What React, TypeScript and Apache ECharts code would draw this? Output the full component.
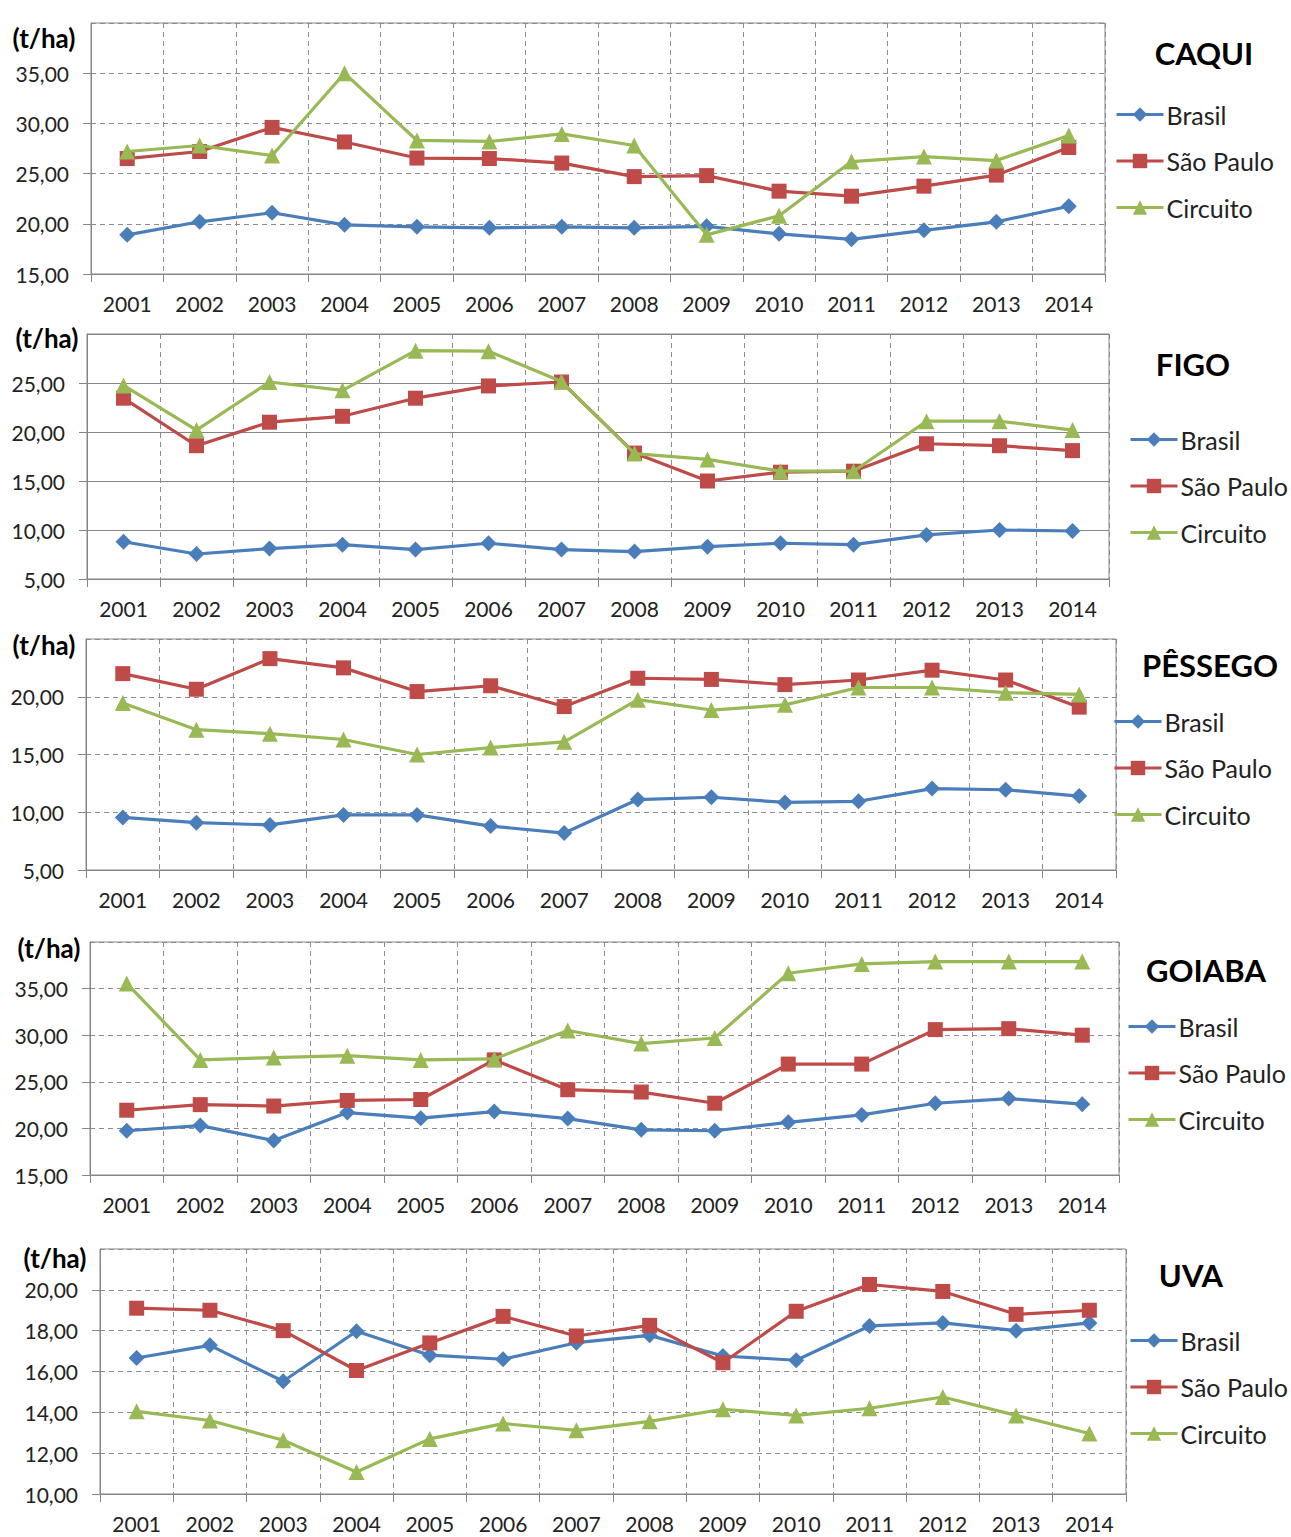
import { useEffect, useRef } from 'react';
import * as echarts from 'echarts';

const years = ['2001', '2002', '2003', '2004', '2005', '2006', '2007', '2008', '2009', '2010', '2011', '2012', '2013', '2014'];
const seriesNames = ['Brasil', 'São Paulo', 'Circuito'];
const titles = ['CAQUI', 'FIGO', 'PÊSSEGO', 'GOIABA', 'UVA'];
const unitLabel = '(t/ha)';

const caquiBrasil = [18.9, 20.2, 21.1, 19.9, 19.7, 19.6, 19.7, 19.6, 19.75, 19.0, 18.45, 19.35, 20.2, 21.75];
const caquiSaoPaulo = [26.5, 27.2, 29.6, 28.15, 26.55, 26.5, 26.05, 24.7, 24.8, 23.25, 22.75, 23.75, 24.85, 27.6];
const caquiCircuito = [27.2, 27.8, 26.8, 35.0, 28.3, 28.2, 28.95, 27.8, 18.9, 20.8, 26.2, 26.7, 26.3, 28.8];

const figoBrasil = [8.8, 7.55, 8.1, 8.5, 8.0, 8.65, 8.0, 7.8, 8.3, 8.65, 8.5, 9.5, 10.0, 9.9];
const figoSaoPaulo = [23.45, 18.6, 21.0, 21.6, 23.45, 24.7, 25.1, 17.85, 15.0, 15.9, 16.0, 18.8, 18.6, 18.1];
const figoCircuito = [24.75, 20.2, 25.1, 24.25, 28.3, 28.25, 25.15, 17.8, 17.2, 16.0, 16.0, 21.1, 21.1, 20.2];

const pessegoBrasil = [9.55, 9.1, 8.9, 9.77, 9.77, 8.8, 8.2, 11.1, 11.3, 10.85, 10.95, 12.05, 11.95, 11.4];
const pessegoSaoPaulo = [22.0, 20.65, 23.3, 22.5, 20.45, 20.95, 19.15, 21.6, 21.5, 21.05, 21.45, 22.3, 21.45, 19.1];
const pessegoCircuito = [19.45, 17.15, 16.8, 16.3, 15.0, 15.6, 16.1, 19.75, 18.85, 19.3, 20.8, 20.8, 20.35, 20.2];

const goiabaBrasil = [19.75, 20.3, 18.7, 21.7, 21.1, 21.8, 21.05, 19.85, 19.75, 20.65, 21.45, 22.7, 23.2, 22.6];
const goiabaSaoPaulo = [21.95, 22.55, 22.4, 23.0, 23.1, 27.35, 24.15, 23.9, 22.7, 26.9, 26.9, 30.6, 30.7, 30.0];
const goiabaCircuito = [35.55, 27.35, 27.6, 27.8, 27.35, 27.45, 30.5, 29.1, 29.7, 36.65, 37.65, 37.9, 37.9, 37.9];

const uvaBrasil = [16.66, 17.28, 15.52, 17.97, 16.8, 16.6, 17.41, 17.77, 16.76, 16.55, 18.23, 18.38, 18.0, 18.38];
const uvaSaoPaulo = [19.1, 19.0, 18.0, 16.05, 17.4, 18.7, 17.74, 18.26, 16.43, 18.95, 20.26, 19.92, 18.8, 19.0];
const uvaCircuito = [14.05, 13.6, 12.63, 11.08, 12.7, 13.45, 13.12, 13.56, 14.15, 13.85, 14.2, 14.75, 13.85, 12.96];

const panelData = [
  [caquiBrasil, caquiSaoPaulo, caquiCircuito],
  [figoBrasil, figoSaoPaulo, figoCircuito],
  [pessegoBrasil, pessegoSaoPaulo, pessegoCircuito],
  [goiabaBrasil, goiabaSaoPaulo, goiabaCircuito],
  [uvaBrasil, uvaSaoPaulo, uvaCircuito],
];
const yMins = [15, 5, 5, 15, 10];
const yMaxs = [40, 30, 25, 40, 22];
const yIntervals = [5, 5, 5, 5, 2];

// layout (positions/styles)
const layout = [
  { left: 91, top: 23, width: 1014, height: 251, solidH: false, legendLeft: 1110, legendTop: 97, titleX: 1204, titleY: 53, unitX: 44, unitY: 38 },
  { left: 87, top: 334, width: 1022, height: 245, solidH: true, legendLeft: 1124, legendTop: 422, titleX: 1193, titleY: 364, unitX: 47, unitY: 338 },
  { left: 86, top: 639, width: 1030, height: 231, solidH: false, legendLeft: 1108, legendTop: 704, titleX: 1210, titleY: 665, unitX: 44, unitY: 645 },
  { left: 90, top: 942, width: 1029, height: 233, solidH: false, legendLeft: 1122, legendTop: 1009, titleX: 1206, titleY: 970, unitX: 49, unitY: 948 },
  { left: 100, top: 1249, width: 1026, height: 245, solidH: false, legendLeft: 1124, legendTop: 1323, titleX: 1191, titleY: 1275, unitX: 55, unitY: 1258 },
];

const colors = ['#4A7EBB', '#BE4B48', '#98B954'];
const symbols = ['diamond', 'rect', 'triangle'];
const symbolSizes = [16, 15, 16];
const FONT = 'Lato, "Open Sans", sans-serif';
const AXIS_COLOR = '#868686';
const GRID_COLOR = '#8c8c8c';
const TEXT_COLOR = '#222222';

export default function App() {
  const ref = useRef<HTMLDivElement>(null);
  useEffect(() => {
    document.body.style.margin = '0';
    if (!ref.current) return;
    const chart = echarts.init(ref.current, undefined, { renderer: 'svg' });

    const grids: any[] = [];
    const xAxes: any[] = [];
    const yAxes: any[] = [];
    const series: any[] = [];
    const legends: any[] = [];
    const graphics: any[] = [];

    layout.forEach((L, i) => {
      grids.push({
        left: L.left, top: L.top, width: L.width, height: L.height,
        show: true, borderColor: AXIS_COLOR, borderWidth: 1, backgroundColor: 'transparent',
      });
      xAxes.push({
        type: 'category', gridIndex: i, data: years, boundaryGap: true,
        axisLine: { show: true, lineStyle: { color: AXIS_COLOR, width: 1 } },
        axisTick: { show: true, length: 8, lineStyle: { color: AXIS_COLOR } },
        axisLabel: { fontSize: 21, fontFamily: FONT, color: TEXT_COLOR, margin: 19, interval: 0 },
        splitLine: { show: true, lineStyle: { type: [5, 4], color: GRID_COLOR, width: 1 } },
      });
      yAxes.push({
        type: 'value', gridIndex: i, min: yMins[i], max: yMaxs[i], interval: yIntervals[i],
        axisLine: { show: true, lineStyle: { color: AXIS_COLOR, width: 1 } },
        axisTick: { show: true, length: 8, lineStyle: { color: AXIS_COLOR } },
        axisLabel: {
          fontSize: 21, fontFamily: FONT, color: TEXT_COLOR, margin: 22, showMaxLabel: false,
          formatter: (v: number) => v.toFixed(2).replace('.', ','),
        },
        splitLine: {
          show: true,
          lineStyle: L.solidH
            ? { type: 'solid', color: AXIS_COLOR, width: 1 }
            : { type: [5, 4], color: GRID_COLOR, width: 1 },
        },
      });
      panelData[i].forEach((vals, k) => {
        series.push({
          name: seriesNames[k], type: 'line', xAxisIndex: i, yAxisIndex: i,
          data: vals, symbol: symbols[k], symbolSize: symbolSizes[k], showAllSymbol: true,
          lineStyle: { color: colors[k], width: 3.2 },
          itemStyle: { color: colors[k] },
          z: 2 + k,
        });
      });
      legends.push({
        data: seriesNames, orient: 'vertical', left: L.legendLeft, top: L.legendTop,
        itemGap: 21.5, itemWidth: 47, itemHeight: 18,
        lineStyle: { width: 3 },
        textStyle: { fontSize: 25, fontFamily: FONT, color: TEXT_COLOR, padding: [0, 0, 0, -2] },
        selectedMode: false,
      });
      graphics.push({
        type: 'text', x: L.titleX, y: L.titleY,
        style: { text: titles[i], fontSize: 31, fontWeight: 'bold', fontFamily: FONT, fill: '#000', textAlign: 'center', textVerticalAlign: 'middle' },
      });
      graphics.push({
        type: 'text', x: L.unitX, y: L.unitY, z: 100,
        style: { text: unitLabel, fontSize: 26, fontWeight: 'bold', fontFamily: FONT, fill: '#000', textAlign: 'center', textVerticalAlign: 'middle', backgroundColor: '#fff' },
      });
    });

    chart.setOption({
      animation: false,
      backgroundColor: '#ffffff',
      grid: grids, xAxis: xAxes, yAxis: yAxes, series, legend: legends, graphic: graphics,
    });
    return () => chart.dispose();
  }, []);
  return <div ref={ref} style={{ width: 1291, height: 1537 }} />;
}
